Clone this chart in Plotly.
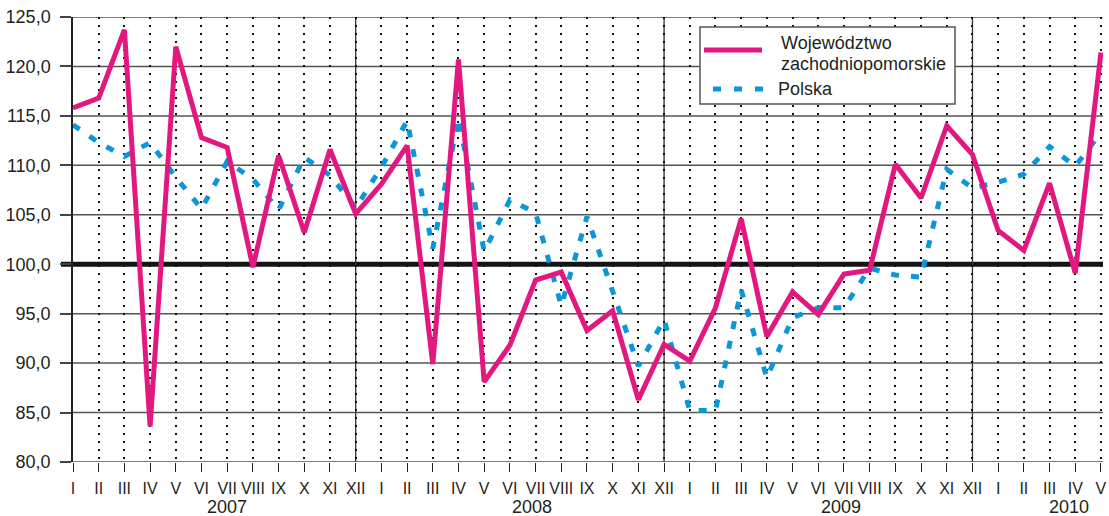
import plotly.graph_objects as go

# ---- data ----
months = ["I", "II", "III", "IV", "V", "VI", "VII", "VIII", "IX", "X", "XI", "XII"] * 3 + ["I", "II", "III", "IV", "V"]
years = ["2007", "2008", "2009", "2010"]
year_label_pos = [6.0, 17.85, 29.9, 38.75]
dec_positions = [11, 23, 35]

zachodniopomorskie = [115.8, 116.8, 123.7, 83.6, 122.0, 112.8, 111.8, 99.7, 111.0, 103.2, 111.6, 105.1,
                      108.1, 112.0, 89.9, 120.7, 88.1, 91.8, 98.4, 99.2, 93.3, 95.3, 86.3, 91.9,
                      90.2, 95.6, 104.6, 92.7, 97.2, 94.9, 99.0, 99.4, 110.1, 106.7, 114.0, 111.1,
                      103.4, 101.4, 108.2, 99.1, 121.4]
polska = [114.1, 112.3, 110.9, 112.3, 108.8, 105.6, 110.4, 108.6, 105.5, 110.8, 109.0, 105.7,
          109.8, 114.5, 101.6, 114.8, 101.3, 106.5, 105.2, 95.8, 104.8, 97.3, 89.7, 94.4,
          85.2, 85.2, 97.4, 88.5, 94.6, 95.6, 95.6, 99.6, 98.9, 98.7, 109.6, 107.7,
          108.3, 109.1, 111.9, 109.9, 113.3]
ytick_vals = [80, 85, 90, 95, 100, 105, 110, 115, 120, 125]
ytick_text = ["80,0", "85,0", "90,0", "95,0", "100,0", "105,0", "110,0", "115,0", "120,0", "125,0"]
reference_level = 100

PINK = "#E2177F"
BLUE = "#0A96D8"
TXT = "#231F20"
FONT = "Liberation Sans, Arial, sans-serif"

x = list(range(len(months)))

fig = go.Figure()
fig.add_trace(go.Scatter(x=x, y=polska, mode="lines", name="Polska",
                         line=dict(color=BLUE, width=5, dash="8px,12px"), showlegend=False))
fig.add_trace(go.Scatter(x=x, y=zachodniopomorskie, mode="lines", name="Województwo zachodniopomorskie",
                         line=dict(color=PINK, width=5), showlegend=False))

W, H = 1109, 516
L, R, T, B = 73, 6, 17, 54
pw, ph = W - L - R, H - T - B


def px2x(px):
    return (px - L) / pw


def px2y(py):
    return (H - B - py) / ph


shapes = []
# horizontal grid lines (except the reference level)
for v in ytick_vals:
    if v == reference_level:
        continue
    shapes.append(dict(type="line", xref="paper", yref="y", x0=0, x1=1, y0=v, y1=v,
                       line=dict(color="#555555", width=1.5), layer="below"))
# thick 100 line
shapes.append(dict(type="line", xref="paper", yref="y", x0=px2x(61), x1=1, y0=reference_level, y1=reference_level,
                   line=dict(color="#141414", width=5), layer="below"))
# solid December lines
for d in dec_positions:
    shapes.append(dict(type="line", xref="x", yref="paper", x0=d, x1=d, y0=0, y1=1,
                       line=dict(color="#333333", width=1.3), layer="below"))
# legend box
shapes.append(dict(type="rect", xref="paper", yref="paper", x0=px2x(700), x1=px2x(955),
                   y0=px2y(104), y1=px2y(27), line=dict(color="#555555", width=1.5),
                   fillcolor="white", layer="above"))
shapes.append(dict(type="line", xref="paper", yref="paper", x0=px2x(704), x1=px2x(762),
                   y0=px2y(50), y1=px2y(50), line=dict(color=PINK, width=5), layer="above"))
shapes.append(dict(type="line", xref="paper", yref="paper", x0=px2x(713), x1=px2x(764),
                   y0=px2y(89), y1=px2y(89), line=dict(color=BLUE, width=5, dash="8px,13px"), layer="above"))

annotations = []
for lbl, pos in zip(years, year_label_pos):
    annotations.append(dict(x=pos, y=px2y(507), xref="x", yref="paper", text=lbl, showarrow=False,
                            font=dict(size=18, color=TXT, family=FONT), xanchor="center", yanchor="middle"))
annotations.append(dict(x=px2x(779), y=px2y(43), xref="paper", yref="paper", text="Województwo",
                        showarrow=False, xanchor="left", yanchor="middle",
                        font=dict(size=18, color=TXT, family=FONT)))
annotations.append(dict(x=px2x(779), y=px2y(64), xref="paper", yref="paper", text="zachodniopomorskie",
                        showarrow=False, xanchor="left", yanchor="middle",
                        font=dict(size=18, color=TXT, family=FONT)))
annotations.append(dict(x=px2x(776), y=px2y(89), xref="paper", yref="paper", text="Polska",
                        showarrow=False, xanchor="left", yanchor="middle",
                        font=dict(size=18, color=TXT, family=FONT)))

fig.update_layout(
    width=W, height=H,
    margin=dict(l=L, r=R, t=T, b=B, pad=0, autoexpand=False),
    paper_bgcolor="white", plot_bgcolor="white",
    showlegend=False,
    shapes=shapes, annotations=annotations,
    font=dict(family=FONT, color=TXT),
    xaxis=dict(range=[0, 40.08], tickmode="array", tickvals=x, ticktext=months,
               showgrid=True, gridcolor="#111111", gridwidth=2, griddash="2px,6px",
               ticks="outside", ticklen=9, tickcolor="#222222", tickwidth=1.2,
               tickfont=dict(size=16, color=TXT, family=FONT), ticklabelstandoff=3,
               showline=False, zeroline=False, fixedrange=True, automargin=False),
    yaxis=dict(range=[80, 125], tickmode="array", tickvals=ytick_vals, ticktext=ytick_text,
               showgrid=False,
               ticks="outside", ticklen=11, tickcolor="#444444", tickwidth=1.5,
               tickfont=dict(size=18, color=TXT, family=FONT), ticklabelstandoff=6,
               showline=True, linecolor="#222222", linewidth=1.5, zeroline=False, fixedrange=True,
               automargin=False),
)

fig.write_html("out.html", config={"displayModeBar": False},
               post_script="document.body.style.margin='0';document.body.style.overflow='hidden';")
